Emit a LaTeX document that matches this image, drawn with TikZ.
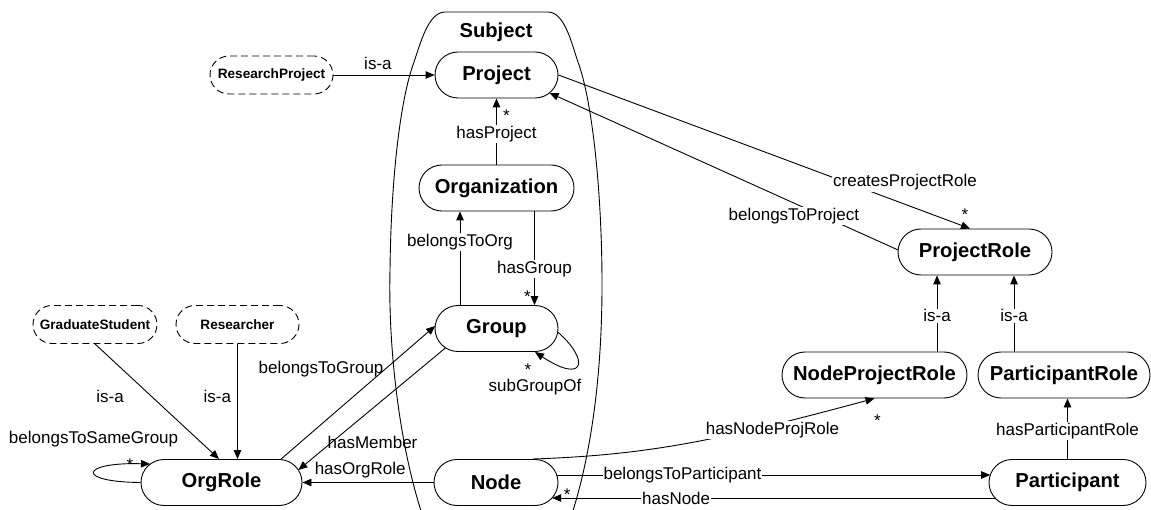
\documentclass[tikz,border=0pt]{standalone}
\usepackage{fontspec}
\setmainfont{Liberation Sans}
\usetikzlibrary{arrows.meta,calc}
\begin{document}
\begin{tikzpicture}[x=1pt,y=-1pt,
  cls/.style={rectangle, rounded corners=23pt, draw, line width=0.9pt, fill=white, inner sep=0pt,
    font=\fontsize{20.2}{22}\selectfont\bfseries, minimum height=46pt},
  sub/.style={rectangle, rounded corners=19pt, draw, dash pattern=on 7pt off 4pt, line width=0.9pt, fill=white, inner sep=0pt,
    font=\fontsize{13.6}{15}\selectfont\bfseries, minimum height=38pt},
  rel/.style={draw, line width=0.9pt, -{Triangle[length=9pt,width=7.5pt]}},
  lab/.style={font=\fontsize{17}{19}\selectfont, inner sep=1pt},
  wlab/.style={lab, fill=white},
  card/.style={font=\fontsize{17}{19}\selectfont, inner sep=0pt},
  title/.style={font=\fontsize{20.2}{22}\selectfont\bfseries, inner sep=0pt},
]
\useasboundingbox (0,0) rectangle (1151,510);

% container
\begin{scope}
\clip (0,0) rectangle (1151,510);
\draw[line width=0.9pt] (424,520) .. controls (400,450) and (388,350) .. (390,270)
  .. controls (391,180) and (400,100) .. (414,62)
  .. controls (420,45) and (428,12) .. (445,12) -- (548,12)
  .. controls (565,12) and (572,45) .. (578,62)
  .. controls (592,100) and (602,190) .. (602,285)
  .. controls (602,380) and (590,460) .. (570,520);
\end{scope}
\node[title] (subj) at (496,32) {Subject};

% nodes
\node[cls, minimum width=123pt] (project) at (496.5,75) {Project};
\node[sub, minimum width=123pt] (rp) at (271.5,75) {ResearchProject};
\node[cls, minimum width=155pt] (org) at (496.5,188) {Organization};
\node[cls, minimum width=123pt] (group) at (496.5,328.5) {Group};
\node[cls, minimum width=124pt] (nodeN) at (496,482.5) {Node};
\node[cls, minimum width=161pt] (orgrole) at (221.5,482.5) {OrgRole};
\node[sub, minimum width=124pt] (grad) at (95,324.5) {GraduateStudent};
\node[sub, minimum width=123pt] (res) at (237.5,324.5) {Researcher};
\node[cls, minimum width=154pt] (prole) at (975,252) {ProjectRole};
\node[cls, minimum width=185pt] (nprole) at (874.5,375) {NodeProjectRole};
\node[cls, minimum width=172pt] (parole) at (1064,375) {ParticipantRole};
\node[cls, minimum width=157pt] (part) at (1067.5,482.5) {Participant};

% connectors
\draw[rel] (rp.east) -- (project.west) node[lab, pos=0.44, yshift=12pt] {is-a};
\draw[rel] (org.north) -- (project.south)
  node[wlab, pos=0.46] {hasProject}
  node[card, pos=1, xshift=10pt, yshift=-17.6pt] {*};
\draw[rel] ([xshift=-36.5pt]group.north) -- ([xshift=-36.5pt]org.south)
  node[wlab, pos=0.67] {belongsToOrg};
\draw[rel] ([xshift=38pt]org.south) -- ([xshift=38pt]group.north)
  node[wlab, pos=0.617] {hasGroup}
  node[card, pos=1, xshift=-7pt, yshift=8.4pt] {*};
\draw[rel] ([shift={(61.2,3.5)}]group.center) .. controls (590,360) and (585,385) .. ([shift={(38.5,23.5)}]group.center)
  node[card, pos=1, xshift=-7pt, yshift=-17.6pt] {*}
  node[lab, pos=1, yshift=-35pt] {subGroupOf};
\draw[rel] ([shift={(59.5,-23.4)}]orgrole.center) -- ([shift={(-61.4,-2.5)}]group.center)
  node[lab, anchor=east, pos=0.674] {belongsToGroup};
\draw[rel] ([shift={(-51.1,19.5)}]group.center) -- ([shift={(76.9,-12.5)}]orgrole.center)
  node[lab, anchor=west, pos=0.77, xshift=-6pt] {hasMember};
\draw[rel] (nodeN.west) -- (orgrole.east) node[lab, pos=0.56, yshift=12.5pt] {hasOrgRole};
\draw[rel] (grad.south) -- ([shift={(-2.5,-23.5)}]orgrole.center) node[lab, pos=0.46, xshift=-42pt] {is-a};
\draw[rel] (res.south) -- (res.south |- orgrole.north) node[lab, anchor=east, pos=0.46, xshift=-5pt] {is-a};
\draw[rel] (orgrole.west) .. controls (75,482) and (80,462) .. ([shift={(-71.5,-18.5)}]orgrole.center)
  node[card, pos=1, xshift=-20pt, yshift=-0.6pt] {*}
  node[lab, pos=0, xshift=-47pt, yshift=43pt] {belongsToSameGroup};
\draw[rel] (project.east) -- ([xshift=-5pt]prole.north)
  node[wlab, pos=0.842, yshift=21.7pt] {createsProjectRole}
  node[card, pos=1, xshift=-5pt, yshift=13.4pt] {*};
\draw[rel] ([shift={(-76.9,-2)}]prole.center) -- ([shift={(53.1,18)}]project.center)
  node[wlab, pos=0.299, yshift=-13pt] {belongsToProject};
\draw[rel] ([xshift=62.5pt]nprole.north) -- ([xshift=62.5pt]nprole.north |- prole.south)
  node[wlab, pos=0.47] {is-a};
\draw[rel] ([xshift=-50pt]parole.north) -- ([xshift=-50pt]parole.north |- prole.south)
  node[wlab, pos=0.47] {is-a};
\draw[rel] (part.north) -- (part.north |- parole.south)
  node[wlab, pos=0.46] {hasParticipantRole};
\draw[rel] ([shift={(37,-23.5)}]nodeN.center) .. controls (650,455) and (720,440) .. (nprole.south)
  node[wlab, pos=0.75, yshift=-5pt] {hasNodeProjRole}
  node[card, pos=1, xshift=3pt, yshift=-22pt] {*};
\draw[rel] ([shift={(60.8,-7.5)}]nodeN.center) -- ([shift={(-77.3,-7.5)}]part.center)
  node[wlab, pos=0.29] {belongsToParticipant};
\draw[rel] ([shift={(-72.7,15.5)}]part.center) -- ([shift={(56.2,15.5)}]nodeN.center)
  node[wlab, pos=0.72] {hasNode}
  node[card, pos=1, xshift=15pt, yshift=3.4pt] {*};
\end{tikzpicture}
\end{document}
